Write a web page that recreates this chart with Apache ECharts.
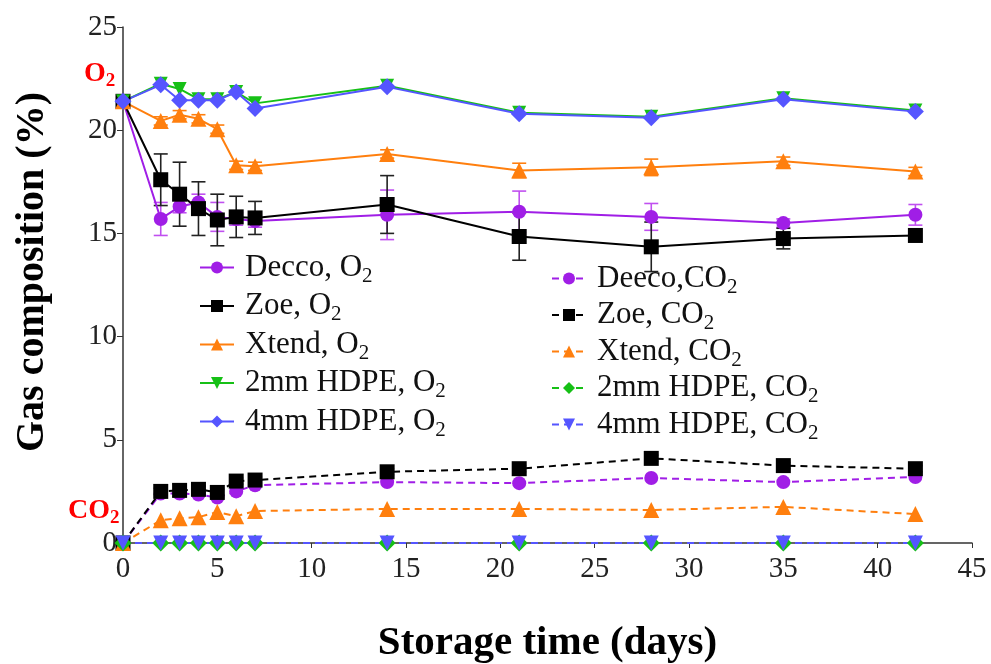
<!DOCTYPE html>
<html>
<head>
<meta charset="utf-8">
<script src="https://cdn.jsdelivr.net/npm/echarts@6/dist/echarts.min.js"></script>
<style>
html, body { margin: 0; padding: 0; background: #fff; }
#chart { width: 991px; height: 664px; }
</style>
</head>
<body>
<div id="chart"></div>
<script>
// storage days
var days = [0, 2, 3, 4, 5, 6, 7, 14, 21, 28, 35, 42];

// O2 (%)
var deccoO2 = [21.4, 15.7, 16.3, 16.5, 15.8, 15.7, 15.6, 15.9, 16.05, 15.8, 15.5, 15.9];
var deccoO2Err = [0, 0.8, 0.3, 0.4, 0.7, 0.3, 0.3, 1.2, 1.0, 0.65, 0.2, 0.5];
var zoeO2 = [21.4, 17.6, 16.9, 16.2, 15.65, 15.8, 15.75, 16.4, 14.85, 14.35, 14.75, 14.9];
var zoeO2Err = [0, 1.25, 1.55, 1.3, 1.25, 1.0, 0.8, 1.4, 1.15, 1.2, 0.5, 0];
var xtendO2 = [21.4, 20.45, 20.75, 20.55, 20.05, 18.3, 18.25, 18.85, 18.05, 18.2, 18.5, 18.0];
var xtendO2Err = [0, 0.2, 0.2, 0.2, 0.2, 0.2, 0.2, 0.2, 0.35, 0.4, 0.2, 0.2];
var hdpe2O2 = [21.4, 22.25, 22.0, 21.5, 21.5, 21.85, 21.3, 22.15, 20.85, 20.65, 21.55, 20.95];
var hdpe4O2 = [21.4, 22.2, 21.45, 21.45, 21.45, 21.85, 21.05, 22.1, 20.8, 20.6, 21.5, 20.9];

// CO2 (%)
var deccoCO2 = [0, 2.4, 2.4, 2.35, 2.2, 2.5, 2.8, 2.95, 2.9, 3.15, 2.95, 3.2];
var zoeCO2 = [0, 2.5, 2.55, 2.6, 2.45, 3.0, 3.05, 3.45, 3.6, 4.1, 3.75, 3.6];
var zoeCO2Err = [0, 0.15, 0.3, 0.15, 0.15, 0.15, 0.15, 0.15, 0.15, 0.15, 0.15, 0.15];
var xtendCO2 = [0, 1.1, 1.2, 1.25, 1.5, 1.3, 1.55, 1.65, 1.65, 1.6, 1.75, 1.4];
var hdpe2CO2 = [0, 0, 0, 0, 0, 0, 0, 0, 0, 0, 0, 0];
var hdpe4CO2 = [0, 0, 0, 0, 0, 0, 0, 0, 0, 0, 0, 0];

var xTicks = [0, 5, 10, 15, 20, 25, 30, 35, 40, 45];
var yTicks = [0, 5, 10, 15, 20, 25];

var legendO2 = ['Decco, O2', 'Zoe, O2', 'Xtend, O2', '2mm HDPE, O2', '4mm HDPE, O2'];
var legendCO2 = ['Deeco,CO2', 'Zoe, CO2', 'Xtend, CO2', '2mm HDPE, CO2', '4mm HDPE, CO2'];

var PURPLE = '#a01ee6', BLACK = '#000000', ORANGE = '#ff7f0e', GREEN = '#16c016', BLUE = '#5555ff';
var SERIF = '"Liberation Serif", "Times New Roman", serif';
var DOWN = 'path://M0,0 L10,0 L5,9 Z';

function pairs(vals) {
    var out = [];
    for (var i = 0; i < days.length; i++) {
        out.push([days[i], vals[i]]);
    }
    return out;
}

function lineSeries(name, vals, color, symbol, size, dashed) {
    return {
        name: name,
        type: 'line',
        data: pairs(vals),
        symbol: symbol,
        symbolSize: size,
        color: color,
        itemStyle: { color: color },
        lineStyle: { color: color, width: 2, type: dashed ? [7, 5] : 'solid' },
        z: 3
    };
}

function errorSeries(vals, errs, color) {
    var data = [];
    for (var i = 0; i < days.length; i++) {
        if (errs[i] > 0) {
            data.push([days[i], vals[i] - errs[i], vals[i] + errs[i]]);
        }
    }
    return {
        type: 'custom',
        silent: true,
        encode: { x: 0, y: [1, 2] },
        data: data,
        z: 2,
        renderItem: function (params, api) {
            var lo = api.coord([api.value(0), api.value(1)]);
            var hi = api.coord([api.value(0), api.value(2)]);
            var w = 7;
            var st = { stroke: color, lineWidth: 1.6 };
            return {
                type: 'group',
                children: [
                    { type: 'line', shape: { x1: lo[0], y1: lo[1], x2: hi[0], y2: hi[1] }, style: st },
                    { type: 'line', shape: { x1: lo[0] - w, y1: lo[1], x2: lo[0] + w, y2: lo[1] }, style: st },
                    { type: 'line', shape: { x1: hi[0] - w, y1: hi[1], x2: hi[0] + w, y2: hi[1] }, style: st }
                ]
            };
        }
    };
}

// subscript the trailing "2"
function subName(name) {
    return '{n|' + name.slice(0, -1) + '}{s|2}';
}

var legendText = {
    fontFamily: SERIF,
    color: '#111',
    rich: {
        n: { fontFamily: SERIF, fontSize: 31, color: '#111', padding: [0, 0, 0, 6] },
        s: { fontFamily: SERIF, fontSize: 21, color: '#111', padding: [17, 0, 0, 0] }
    }
};

var redRich = {
    b: { fontFamily: SERIF, fontSize: 28, fontWeight: 'bold', fill: '#ff0000', color: '#ff0000' },
    c: { fontFamily: SERIF, fontSize: 19, fontWeight: 'bold', fill: '#ff0000', color: '#ff0000', padding: [15, 0, 0, 0] }
};

var myChart = echarts.init(document.getElementById('chart'));

var option = {
    backgroundColor: '#fff',
    animation: false,
    grid: { left: 123, right: 19, top: 27, bottom: 121, outerBoundsMode: 'none', containLabel: false },
    xAxis: {
        type: 'value',
        min: 0,
        max: 45,
        interval: 5,
        name: 'Storage time (days)',
        nameLocation: 'middle',
        nameGap: 80,
        nameTextStyle: { fontFamily: SERIF, fontSize: 41, fontWeight: 'bold', color: '#000' },
        axisLine: { lineStyle: { color: '#333', width: 1.5 } },
        axisTick: { length: 5, lineStyle: { color: '#333' } },
        axisLabel: {
            fontFamily: SERIF, fontSize: 29, color: '#222', margin: 12,
            formatter: function (v) { return xTicks.indexOf(v) >= 0 ? String(v) : ''; }
        },
        splitLine: { show: false }
    },
    yAxis: {
        type: 'value',
        min: 0,
        max: 25,
        interval: 5,
        name: 'Gas composition (%)',
        nameLocation: 'middle',
        nameGap: 70,
        nameTextStyle: { fontFamily: SERIF, fontSize: 40, fontWeight: 'bold', color: '#000', padding: [0, 0, 0, 26] },
        axisLine: { show: true, lineStyle: { color: '#333', width: 1.5 } },
        axisTick: { show: true, length: 6, lineStyle: { color: '#333' } },
        axisLabel: {
            fontFamily: SERIF, fontSize: 29, color: '#222', margin: 6,
            formatter: function (v) { return yTicks.indexOf(v) >= 0 ? String(v) : ''; }
        },
        splitLine: { show: false }
    },
    legend: [{
        data: legendO2,
        orient: 'vertical',
        left: 194,
        top: 247,
        itemWidth: 34,
        itemHeight: 15,
        itemGap: 4,
        textStyle: legendText,
        formatter: subName
    }, {
        data: legendCO2,
        orient: 'vertical',
        left: 546,
        top: 258,
        itemWidth: 34,
        itemHeight: 15,
        itemGap: 2,
        textStyle: legendText,
        formatter: subName
    }],
    graphic: [{
        type: 'text',
        left: 84,
        top: 60,
        style: { text: '{b|O}{c|2}', rich: redRich }
    }, {
        type: 'text',
        left: 68,
        top: 497,
        style: { text: '{b|CO}{c|2}', rich: redRich }
    }],
    series: [
        lineSeries('Decco, O2', deccoO2, PURPLE, 'circle', 14, false),
        lineSeries('Zoe, O2', zoeO2, BLACK, 'rect', 15, false),
        lineSeries('Xtend, O2', xtendO2, ORANGE, 'triangle', 16, false),
        lineSeries('2mm HDPE, O2', hdpe2O2, GREEN, DOWN, 14, false),
        lineSeries('4mm HDPE, O2', hdpe4O2, BLUE, 'diamond', 17, false),
        lineSeries('Deeco,CO2', deccoCO2, PURPLE, 'circle', 14, true),
        lineSeries('Zoe, CO2', zoeCO2, BLACK, 'rect', 15, true),
        lineSeries('Xtend, CO2', xtendCO2, ORANGE, 'triangle', 16, true),
        lineSeries('2mm HDPE, CO2', hdpe2CO2, GREEN, 'diamond', 17, true),
        lineSeries('4mm HDPE, CO2', hdpe4CO2, BLUE, DOWN, 15, true),
        errorSeries(deccoO2, deccoO2Err, '#c050f0'),
        errorSeries(zoeO2, zoeO2Err, '#222'),
        errorSeries(xtendO2, xtendO2Err, ORANGE),
        errorSeries(zoeCO2, zoeCO2Err, '#222')
    ]
};

myChart.setOption(option);
</script>
</body>
</html>
